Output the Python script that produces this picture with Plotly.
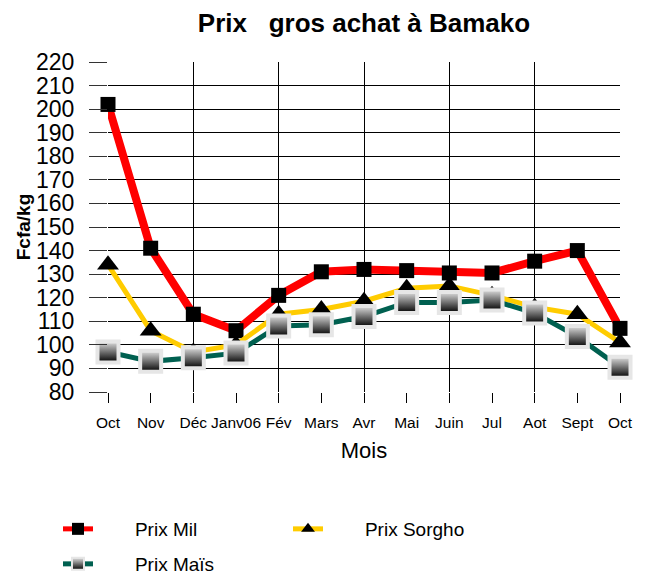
import plotly.graph_objects as go

months = ["Oct", "Nov", "Déc", "Janv06", "Fév", "Mars", "Avr", "Mai", "Juin", "Jul", "Aot", "Sept", "Oct"]
prix_mil = [202, 141, 113, 106, 121, 131, 132, 131.5, 130.5, 130.5, 135.5, 140, 107]
prix_sorgho = [134, 106, 97, 100, 113, 115, 118.5, 124, 125, 121, 116, 113, 101]
prix_mais = [97, 93, 94.5, 96.5, 108, 108.5, 112, 118, 118, 119, 113.5, 103.5, 90.5]
y_ticks = list(range(80, 221, 10))

xpos = list(range(len(months)))
FONT = "Liberation Sans, Arial, sans-serif"
PAD = "\u00a0" * 7

W, H = 642, 568  # page body adds an 8px offset

fig = go.Figure()

# invisible trace on the main subplot (carries the every-other-month grid)
fig.add_trace(go.Scatter(x=[xpos[0]], y=[y_ticks[0]], mode="none", showlegend=False,
                         hoverinfo="skip", xaxis="x", yaxis="y"))

fig.add_trace(go.Scatter(
    x=xpos, y=prix_mil, name=PAD + "Prix Mil", mode="lines+markers", xaxis="x2", yaxis="y",
    line=dict(color="#ff0000", width=8),
    marker=dict(symbol="square", size=15, color="black"),
    cliponaxis=False, legend="legend"))
fig.add_trace(go.Scatter(
    x=xpos, y=prix_sorgho, name=PAD + "Prix Sorgho", mode="lines+markers", xaxis="x2", yaxis="y",
    line=dict(color="#ffcc00", width=5),
    marker=dict(symbol="triangle-up", size=19, color="black"),
    cliponaxis=False, legend="legend"))
fig.add_trace(go.Scatter(
    x=xpos, y=prix_mais, name=PAD + "Prix Maïs", mode="lines+markers", xaxis="x2", yaxis="y",
    line=dict(color="#006050", width=5),
    marker=dict(symbol="square", size=21, color="#e0e0e0",
                gradient=dict(type="vertical", color="black"),
                line=dict(color="#e6e6e6", width=4)),
    cliponaxis=False, legend="legend2"))

fig.update_layout(
    width=W, height=H,
    margin=dict(l=100, r=30, t=54, b=184, autoexpand=False),
    paper_bgcolor="white", plot_bgcolor="white",
    font=dict(family=FONT, color="black"),
    title=dict(text="<b>Prix\u00a0\u00a0 gros achat à Bamako</b>", font=dict(size=26, family=FONT),
               x=0.5, xref="paper", xanchor="center",
               y=1 - 15 / H, yref="container", yanchor="middle"),
    xaxis=dict(range=[0, 12], tickvals=xpos[::2], showticklabels=False, ticks="",
               showgrid=True, gridcolor="black", gridwidth=1, zeroline=False, showline=False),
    xaxis2=dict(range=[0, 12], overlaying="x", side="bottom", tickvals=xpos, ticktext=months,
                ticks="outside", ticklen=10, tickcolor="black", showgrid=False, zeroline=False,
                tickfont=dict(size=15.5, family=FONT), ticklabelstandoff=6,
                title=dict(text="Mois", font=dict(size=22, family=FONT), standoff=13)),
    yaxis=dict(range=[80, 220], tickvals=y_ticks, showgrid=True, gridcolor="black", gridwidth=1,
               ticks="outside", ticklen=18, tickcolor="#333", zeroline=False, showline=False,
               tickfont=dict(size=23, family=FONT), ticklabelstandoff=10,
               title=dict(text="<b>Fcfa/kg</b>", font=dict(size=19, family=FONT), standoff=0)),
    legend=dict(orientation="h", x=50 / W, xref="container", xanchor="left",
                y=1 - 521 / H, yref="container", yanchor="middle",
                entrywidth=185, entrywidthmode="pixels", font=dict(size=19, family=FONT),
                bgcolor="rgba(0,0,0,0)", itemsizing="constant"),
    legend2=dict(orientation="h", x=50 / W, xref="container", xanchor="left",
                 y=1 - 556 / H, yref="container", yanchor="middle",
                 font=dict(size=19, family=FONT), bgcolor="rgba(0,0,0,0)", itemsizing="constant"),
    showlegend=True,
)

fig.write_html("out.html")
